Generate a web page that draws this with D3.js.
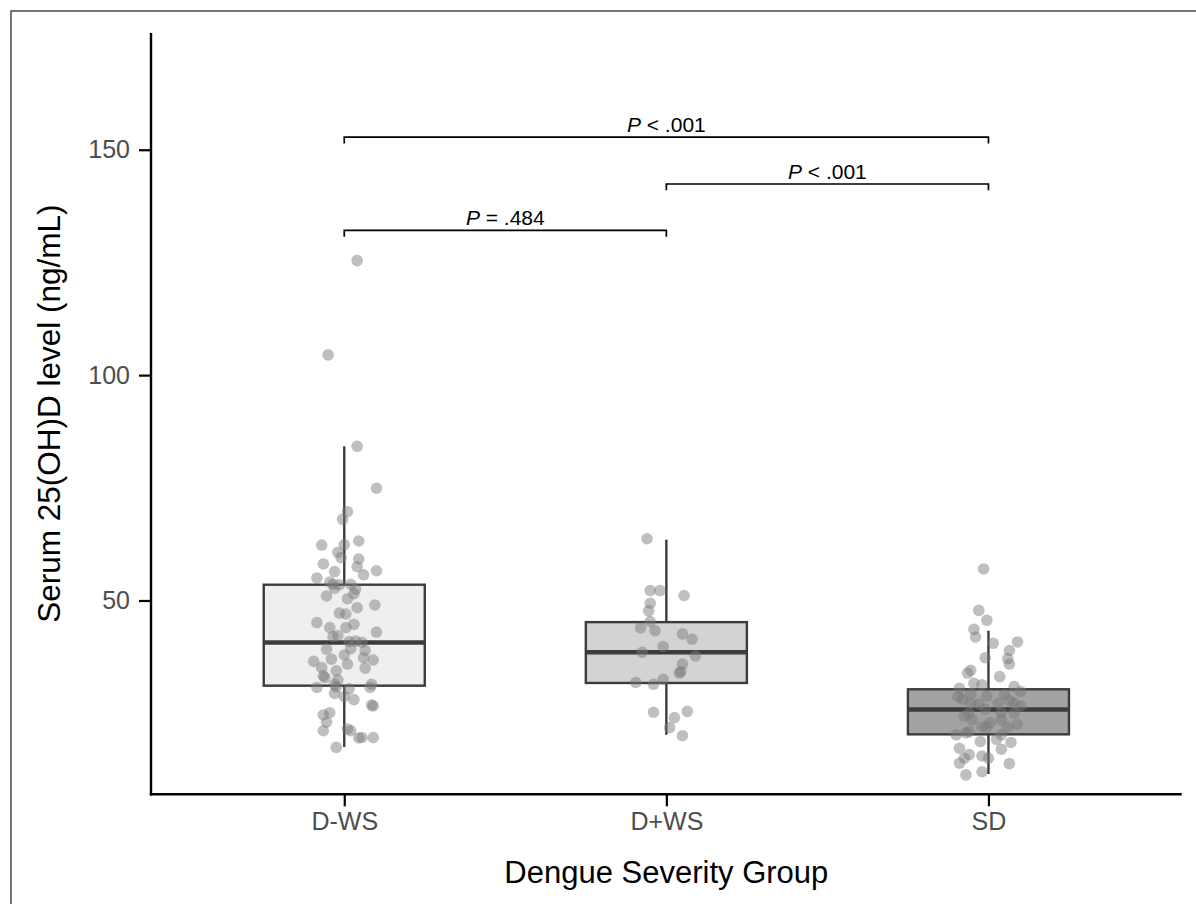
<!DOCTYPE html>
<html>
<head>
<meta charset="utf-8">
<script src="https://cdn.jsdelivr.net/npm/d3@7"></script>
<style>
  html, body { margin: 0; padding: 0; background: #fff; }
  svg { display: block; font-family: "Liberation Sans", Arial, sans-serif; }
</style>
</head>
<body>
<svg id="chart" width="1196" height="904"></svg>
<script>
// ---------- data ----------
const categories = ["D-WS", "D+WS", "SD"];
const boxFills = ["#efefef", "#d3d3d3", "#a3a3a3"];
const whiskerLow  = [17.5, 20.2, 11.5];
const q1          = [31.1, 31.7, 20.3];
const medians     = [40.7, 38.5, 25.8];
const q3          = [53.5, 45.2, 30.3];
const whiskerHigh = [84.2, 63.5, 43.3];
const yTicks = [50, 100, 150];

const dwsValues = [125.4,104.5,84.2,74.9,69.7,68.0,62.3,63.2,62.4,60.7,59.5,59.2,58.1,57.5,56.6,56.4,55.7,55.0,54.1,53.6,53.5,53.6,52.7,52.5,51.5,51.0,50.4,49.0,48.4,47.2,47.0,45.1,44.0,44.0,44.7,43.0,42.0,42.2,40.9,41.0,40.7,39.3,39.2,38.9,37.9,37.3,36.8,37.0,36.5,35.9,35.1,35.0,34.4,33.3,32.9,32.4,31.4,31.4,30.7,30.7,30.8,30.4,29.4,28.7,28.0,26.8,26.6,25.1,24.6,23.0,21.5,21.1,21.1,19.5,19.6,19.6,17.4];
const dwsJitter = [0.04,-0.05,0.04,0.10,0.01,-0.005,-0.07,0.045,0.00,-0.02,-0.01,0.045,-0.065,0.04,0.10,-0.03,0.06,-0.085,-0.045,-0.035,-0.015,0.02,-0.03,0.035,0.03,-0.055,0.01,0.095,0.04,-0.015,0.005,-0.085,-0.045,0.005,0.03,0.10,-0.035,-0.02,0.015,0.035,0.055,0.02,-0.055,0.065,0.00,0.06,0.09,-0.04,-0.095,0.01,-0.07,0.065,-0.025,-0.065,-0.06,-0.02,-0.03,0.085,0.08,-0.085,-0.025,0.015,-0.03,0.00,0.03,0.085,0.09,-0.045,-0.065,-0.055,0.01,0.02,-0.065,0.045,0.055,0.09,-0.025];

const dpwsValues = [63.7,52.2,52.2,51.1,49.4,47.7,45.3,43.9,43.3,42.6,41.4,39.8,38.5,37.7,35.9,34.2,33.9,32.5,31.8,31.4,25.2,25.4,24.0,21.8,20.0];
const dpwsJitter = [-0.06,-0.05,-0.02,0.055,-0.05,-0.055,-0.05,-0.08,-0.035,0.05,0.08,-0.01,-0.075,0.09,0.05,0.045,0.04,-0.01,-0.095,-0.04,-0.04,0.065,0.025,0.01,0.05];

const sdValues = [57.0,47.8,45.6,43.6,41.9,40.5,40.8,38.9,37.1,35.9,37.3,34.5,33.9,33.1,31.6,31.3,30.5,30.9,29.8,28.8,29.1,28.7,28.0,29.3,27.8,27.2,26.6,27.2,27.0,27.2,25.9,25.0,25.1,25.0,24.3,23.5,23.5,22.9,22.5,22.0,21.9,21.9,20.9,20.2,20.6,20.2,18.7,19.2,18.5,17.2,17.0,15.8,15.5,15.0,15.0,13.9,13.8,11.3,12.0];
const sdJitter = [-0.015,-0.03,-0.005,-0.045,-0.04,0.015,0.09,0.065,0.06,0.065,-0.01,-0.055,-0.065,0.035,-0.045,-0.02,-0.09,0.08,0.10,-0.005,0.05,-0.095,-0.08,-0.055,0.065,0.08,0.10,-0.055,-0.03,0.03,-0.01,-0.06,0.04,0.08,-0.075,-0.05,0.04,0.005,0.09,-0.02,-0.005,0.06,-0.06,-0.10,-0.07,0.04,-0.025,0.025,0.07,-0.09,0.04,-0.06,-0.02,0.00,-0.075,-0.09,0.065,-0.07,-0.02];

const comparisons = [
  { from: "D-WS", to: "SD",   y: 152.8, op: " < ", p: ".001" },
  { from: "D+WS", to: "SD",   y: 142.4, op: " < ", p: ".001" },
  { from: "D-WS", to: "D+WS", y: 132.1, op: " = ", p: ".484" }
];

// ---------- layout ----------
const svg = d3.select("#chart");
const plotLeft = 151, plotRight = 1181.7, plotTop = 33, plotBottom = 794.3;

const x = d3.scalePoint().domain(categories).range([plotLeft, plotRight]).padding(0.6);
const step = x.step();
const y = d3.scaleLinear().domain([7.0, 175.9]).range([plotBottom, plotTop]);

// outer frame
svg.append("rect").attr("x", 11).attr("y", 11).attr("width", 1200).attr("height", 900)
  .attr("fill", "none").attr("stroke", "#4a4a4a").attr("stroke-width", 1.5);

// boxes
const boxW = step * 0.5;
const lineCol = "#3c3c3c";
categories.forEach((c, i) => {
  const cx = x(c);
  const g = svg.append("g");
  g.append("line").attr("x1", cx).attr("x2", cx).attr("y1", y(whiskerHigh[i])).attr("y2", y(q3[i]))
    .attr("stroke", lineCol).attr("stroke-width", 2.4);
  g.append("line").attr("x1", cx).attr("x2", cx).attr("y1", y(q1[i])).attr("y2", y(whiskerLow[i]))
    .attr("stroke", lineCol).attr("stroke-width", 2.4);
  g.append("rect").attr("x", cx - boxW / 2).attr("width", boxW)
    .attr("y", y(q3[i])).attr("height", y(q1[i]) - y(q3[i]))
    .attr("fill", boxFills[i]).attr("stroke", lineCol).attr("stroke-width", 2.4);
  g.append("line").attr("x1", cx - boxW / 2).attr("x2", cx + boxW / 2)
    .attr("y1", y(medians[i])).attr("y2", y(medians[i]))
    .attr("stroke", lineCol).attr("stroke-width", 4.5);
});

// jittered points
const groups = [
  { cat: "D-WS", vals: dwsValues, jit: dwsJitter },
  { cat: "D+WS", vals: dpwsValues, jit: dpwsJitter },
  { cat: "SD", vals: sdValues, jit: sdJitter }
];
groups.forEach(gr => {
  svg.append("g").selectAll("circle").data(gr.vals).join("circle")
    .attr("cx", (d, i) => x(gr.cat) + gr.jit[i] * step)
    .attr("cy", d => y(d))
    .attr("r", 5.8)
    .attr("fill", "#7a7a7a")
    .attr("fill-opacity", 0.48);
});

// axes
const yAxis = d3.axisLeft(y).tickValues(yTicks).tickSize(12).tickPadding(9);
const yG = svg.append("g").attr("transform", `translate(${plotLeft},0)`).call(yAxis);
yG.select(".domain").remove();
yG.selectAll(".tick line").attr("stroke", "#000").attr("stroke-width", 2.2);
yG.selectAll(".tick text").attr("font-size", 25).attr("fill", "#4d4d4d")
  .attr("font-family", "Liberation Sans, Arial, sans-serif");
svg.append("line").attr("x1", plotLeft).attr("x2", plotLeft).attr("y1", plotTop).attr("y2", plotBottom + 1.2)
  .attr("stroke", "#000").attr("stroke-width", 2.4);

const xAxis = d3.axisBottom(x).tickSize(12).tickPadding(6);
const xG = svg.append("g").attr("transform", `translate(0,${plotBottom})`).call(xAxis);
xG.select(".domain").remove();
xG.selectAll(".tick line").attr("stroke", "#000").attr("stroke-width", 2.2);
xG.selectAll(".tick text").attr("font-size", 25).attr("fill", "#4d4d4d")
  .attr("font-family", "Liberation Sans, Arial, sans-serif");
svg.append("line").attr("x1", plotLeft - 1.2).attr("x2", plotRight).attr("y1", plotBottom).attr("y2", plotBottom)
  .attr("stroke", "#000").attr("stroke-width", 2.4);

// axis titles
svg.append("text").attr("x", (plotLeft + plotRight) / 2).attr("y", 883)
  .attr("text-anchor", "middle").attr("font-size", 31).attr("fill", "#000")
  .text("Dengue Severity Group");
svg.append("text").attr("transform", `translate(60,${(plotTop + plotBottom) / 2}) rotate(-90)`)
  .attr("text-anchor", "middle").attr("font-size", 31.5).attr("fill", "#000")
  .text("Serum 25(OH)D level (ng/mL)");

// significance brackets
const tickDrop = 1.4;
comparisons.forEach(cmp => {
  const x1 = x(cmp.from), x2 = x(cmp.to);
  svg.append("path")
    .attr("d", `M${x1},${y(cmp.y - tickDrop)}V${y(cmp.y)}H${x2}V${y(cmp.y - tickDrop)}`)
    .attr("fill", "none").attr("stroke", "#000").attr("stroke-width", 1.7);
  const t = svg.append("text").attr("x", (x1 + x2) / 2).attr("y", y(cmp.y) - 5)
    .attr("text-anchor", "middle").attr("font-size", 21).attr("fill", "#000");
  t.append("tspan").attr("font-style", "italic").text("P");
  t.append("tspan").text(cmp.op + cmp.p);
});
</script>
</body>
</html>
